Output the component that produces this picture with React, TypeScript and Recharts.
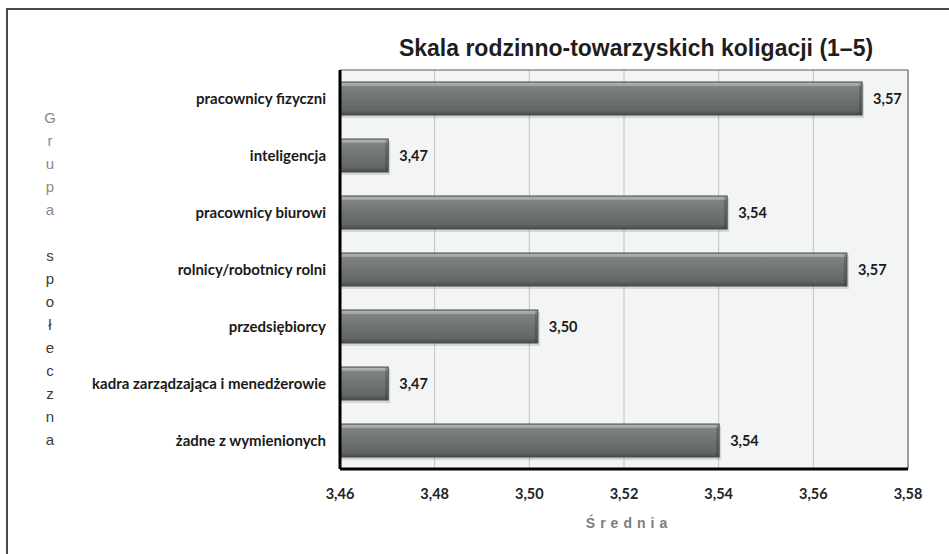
import React from 'react';
import { BarChart, Bar, XAxis, YAxis, CartesianGrid, LabelList, ReferenceArea } from 'recharts';

const categories = [
  'pracownicy fizyczni',
  'inteligencja',
  'pracownicy biurowi',
  'rolnicy/robotnicy rolni',
  'przedsiębiorcy',
  'kadra zarządzająca i menedżerowie',
  'żadne z wymienionych',
];
const means = [3.5703, 3.4702, 3.5418, 3.5671, 3.5018, 3.4702, 3.5401];
const xTicks = [3.46, 3.48, 3.5, 3.52, 3.54, 3.56, 3.58];
const title = 'Skala rodzinno-towarzyskich koligacji (1–5)';
const yLabelFirst = 'Grupa';
const yLabelSecond = 'społeczna';
const xLabel = 'Średnia';

const data = categories.map((name, i) => ({ name, value: means[i] }));
const fmt = (v: number) => Number(v).toFixed(2).replace('.', ',');

const BarShape = (props: any) => {
  const { x, y, width, height } = props;
  if (!width || width <= 0) return null;
  return (
    <g>
      <rect x={x + 1} y={y + 2} width={width + 1} height={height + 1} fill="rgba(0,0,0,0.12)" />
      <rect x={x} y={y} width={width} height={height} fill="url(#barGrad)" stroke="#454a4a" strokeWidth={1} />
      <rect x={x + 1} y={y + 1} width={Math.max(0, width - 2)} height={3} fill="rgba(255,255,255,0.22)" />
      <rect x={x + width - 3} y={y + 1} width={2} height={height - 2} fill="rgba(0,0,0,0.18)" />
    </g>
  );
};

export default function App() {
  const letters = (yLabelFirst + ' ' + yLabelSecond).split('');
  return (
    <div style={{ position: 'absolute', left: 0, top: 0, width: 949, height: 554, background: '#fff', overflow: 'hidden' }}>
      <div style={{ position: 'absolute', left: 6, top: 8, width: 943, height: 2, background: '#4a4a4a' }} />
      <div style={{ position: 'absolute', left: 6, top: 8, width: 2, height: 546, background: '#4a4a4a' }} />
      <div
        style={{
          position: 'absolute', left: 286, top: 35, width: 700, textAlign: 'center',
          fontFamily: '"Liberation Sans", Arial, sans-serif', fontWeight: 700, fontSize: 23, color: '#1e1e1e', lineHeight: '27px',
        }}
      >
        {title}
      </div>
      {letters.map((ch, i) => (
        <div
          key={i}
          style={{
            position: 'absolute', left: 39, width: 22, top: 118 + i * 23 - 10, textAlign: 'center',
            fontFamily: '"Liberation Sans", Arial, sans-serif', fontSize: 15, lineHeight: '20px',
            color: i < yLabelFirst.length ? '#8a8a8a' : '#3c3c3c',
          }}
        >
          {ch === ' ' ? '\u00a0' : ch}
        </div>
      ))}
      <div
        style={{
          position: 'absolute', left: 524, width: 200, top: 514, textAlign: 'center',
          fontFamily: '"Liberation Sans", Arial, sans-serif', fontWeight: 700, fontSize: 14, letterSpacing: 5, color: '#7d7d7d',
          lineHeight: '18px', paddingLeft: 5,
        }}
      >
        {xLabel}
      </div>
      <div style={{ position: 'absolute', left: 0, top: 0 }}>
        <BarChart width={949} height={554} layout="vertical" data={data} margin={{ top: 70, right: 41, bottom: 55, left: 10 }} barSize={33}>
          <defs>
            <linearGradient id="barGrad" x1="0" y1="0" x2="0" y2="1">
              <stop offset="0%" stopColor="#a3a6a6" />
              <stop offset="14%" stopColor="#7e8282" />
              <stop offset="50%" stopColor="#6f7373" />
              <stop offset="86%" stopColor="#626666" />
              <stop offset="100%" stopColor="#474b4b" />
            </linearGradient>
          </defs>
          <CartesianGrid fill="#f3f5f4" horizontal={false} stroke="#c2c2c2" />
          <ReferenceArea x1={3.46} x2={3.58} fill="none" fillOpacity={0} stroke="#5a5a5a" strokeWidth={1} />
          <XAxis
            type="number"
            domain={[3.46, 3.58]}
            ticks={xTicks}
            allowDataOverflow
            tickFormatter={fmt}
            axisLine={{ stroke: '#000', strokeWidth: 3 }}
            tickLine={false}
            tickMargin={14}
            height={30}
            tick={{ fill: '#222', fontSize: 14.5, fontWeight: 700, fontFamily: 'Lato' }}
          />
          <YAxis
            type="category"
            dataKey="name"
            width={330}
            interval={0}
            axisLine={{ stroke: '#000', strokeWidth: 3 }}
            tickLine={false}
            tickMargin={8}
            tick={{ fill: '#1a1a1a', fontSize: 15, fontWeight: 700, fontFamily: 'Lato' }}
          />
          <Bar dataKey="value" isAnimationActive={false} shape={<BarShape />}>
            <LabelList
              dataKey="value"
              position="right"
              offset={11}
              formatter={fmt}
              style={{ fill: '#1a1a1a', fontSize: 14.5, fontWeight: 700, fontFamily: 'Lato' }}
            />
          </Bar>
        </BarChart>
      </div>
    </div>
  );
}
